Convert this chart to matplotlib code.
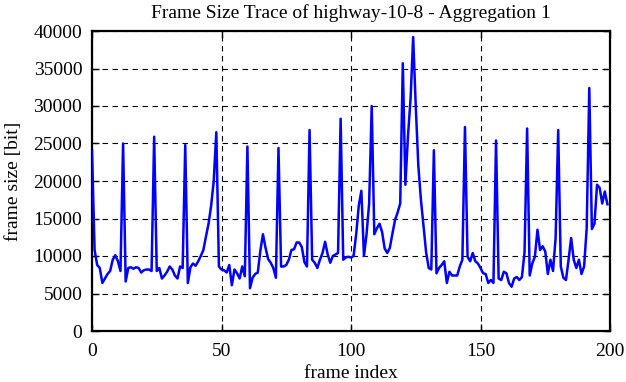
import matplotlib
matplotlib.use("Agg")
import matplotlib.pyplot as plt
import numpy as np

frame_size = [
    # 0-11
    24000, 10800, 8800, 8400, 6400, 7000, 7600, 8000, 9500, 10100, 9300, 8000,
    # 12-23
    25000, 6600, 8400, 8500, 8300, 8500, 8400, 7800, 8100, 8200, 8200, 8000,
    # 24-35
    25900, 8000, 8400, 7000, 7400, 7900, 8600, 8200, 7400, 7000, 8600, 8400,
    # 36-47
    24800, 6400, 8500, 9000, 8700, 9300, 10000, 10800, 12600, 14300, 16700, 20000,
    # 48-59
    26500, 8600, 8200, 8100, 7800, 8800, 6100, 8200, 7700, 7000, 8600, 7300,
    # 60-71
    24600, 5700, 7100, 7600, 7800, 10700, 12900, 11100, 9600, 9100, 8400, 7100,
    # 72-83
    24400, 8600, 8600, 8800, 9500, 10800, 10900, 11800, 11800, 11200, 9200, 8600,
    # 84-95
    26800, 9500, 9100, 8400, 9500, 10400, 11900, 10200, 9100, 10000, 10200, 10400,
    # 96-107
    28300, 9500, 9800, 9900, 9800, 10000, 12900, 16700, 18700, 10000, 12900, 17000,
    # 108-119
    30000, 12900, 13700, 14300, 13200, 11000, 10400, 11100, 13000, 14800, 15800, 17000,
    # 120-131
    35700, 19500, 26000, 31000, 39200, 30000, 22000, 17500, 14000, 10500, 8400, 8200,
    # 132-143
    24100, 7700, 8400, 8800, 9300, 6400, 7900, 7400, 7400, 7400, 8600, 9500,
    # 144-155
    27200, 9900, 9300, 10400, 9300, 9000, 8400, 7700, 7600, 6400, 6800, 6400,
    # 156-167
    25400, 7000, 6800, 7900, 7700, 6400, 5900, 7000, 7200, 6800, 7200, 10500,
    # 168-179
    27000, 7400, 9000, 9900, 13500, 10800, 11300, 10600, 7600, 9500, 8000, 12400,
    # 180-191
    26800, 8600, 7100, 6800, 9500, 12400, 9500, 8400, 9500, 7600, 8600, 13700,
    # 192-199
    32400, 13600, 14300, 19500, 19100, 17000, 18600, 16900,
]
frame_index = np.arange(len(frame_size))

x_ticks = [0, 50, 100, 150, 200]
y_ticks = [0, 5000, 10000, 15000, 20000, 25000, 30000, 35000, 40000]

plt.rcParams['font.family'] = ['Liberation Serif', 'DejaVu Serif']

fig = plt.figure(figsize=(6.26, 3.82), dpi=100)
ax = fig.add_axes([92/626, 1 - 331/382, (610 - 92)/626, 300/382])

ax.plot(frame_index, frame_size, color=(0, 0, 1), linewidth=1.8, zorder=3)

ax.set_xlim(0, 200)
ax.set_ylim(0, 40000)
ax.set_xticks(x_ticks)
ax.set_yticks(y_ticks)
ax.grid(True, color='black', linestyle=(0, (5, 4)), linewidth=0.8)
ax.tick_params(direction='in', length=5, width=1, top=True, right=True,
               labelsize=14)
ax.tick_params(axis='y', pad=7)
ax.tick_params(axis='x', pad=9)
for s in ax.spines.values():
    s.set_linewidth(1.6)

ax.set_title("Frame Size Trace of highway-10-8 - Aggregation 1", fontsize=14, pad=9.5)
ax.set_xlabel("frame index", fontsize=14, labelpad=3.5)
ax.set_ylabel("frame size [bit]", fontsize=14, labelpad=8)

fig.savefig("out.png", dpi=100)
